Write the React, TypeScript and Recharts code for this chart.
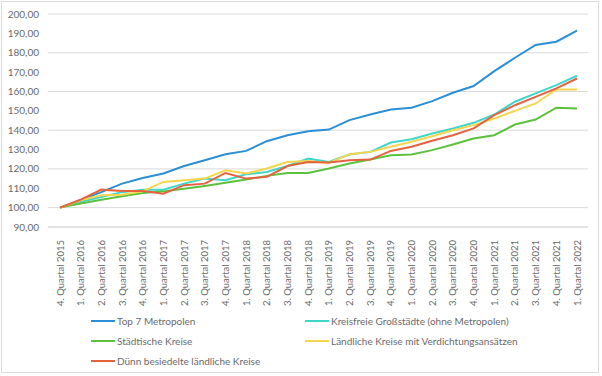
import { LineChart, Line, XAxis, YAxis, CartesianGrid, Legend } from 'recharts';

const quarters = [
  '4. Quartal 2015',
  '1. Quartal 2016', '2. Quartal 2016', '3. Quartal 2016', '4. Quartal 2016',
  '1. Quartal 2017', '2. Quartal 2017', '3. Quartal 2017', '4. Quartal 2017',
  '1. Quartal 2018', '2. Quartal 2018', '3. Quartal 2018', '4. Quartal 2018',
  '1. Quartal 2019', '2. Quartal 2019', '3. Quartal 2019', '4. Quartal 2019',
  '1. Quartal 2020', '2. Quartal 2020', '3. Quartal 2020', '4. Quartal 2020',
  '1. Quartal 2021', '2. Quartal 2021', '3. Quartal 2021', '4. Quartal 2021',
  '1. Quartal 2022',
];

const top7 = [100, 104, 108, 112.4, 115.3, 117.6, 121.5, 124.5, 127.6, 129.3, 134.3, 137.4, 139.5, 140.3, 145.2, 148.1, 150.7, 151.6, 155, 159.3, 162.8, 170.5, 177.4, 184, 185.7, 191.4];
const grossstaedte = [100, 103, 105.5, 108, 109.3, 109.3, 112.4, 115, 114.1, 117.2, 118.4, 121.5, 125.3, 123.6, 127.4, 128.8, 133.6, 135.3, 138.3, 140.9, 143.8, 148.1, 154.7, 159, 163.3, 168.1];
const staedtisch = [100, 102.1, 104.1, 105.9, 107.6, 108.4, 109.8, 111.2, 112.8, 114.5, 116.4, 117.9, 117.9, 120.2, 122.8, 124.8, 127.1, 127.4, 129.7, 132.6, 135.7, 137.4, 142.9, 145.5, 151.6, 151.2];
const laendlichVerd = [100, 103.8, 106.4, 106.7, 108.4, 113.3, 114.1, 115, 119.3, 117.6, 120.2, 123.6, 124.1, 123.1, 127.6, 128.8, 131.4, 134, 136.9, 140, 142.6, 146, 150, 153.8, 161, 161];
const duennBesiedelt = [100, 104.1, 109.3, 108.6, 108.6, 107.2, 111.6, 112.4, 117.9, 115, 115.9, 121.5, 123.6, 123.3, 124.5, 124.8, 129.3, 131.4, 134.5, 137.4, 140.9, 147.8, 152.9, 157.2, 161.6, 166.7];

const yTicks = [90, 100, 110, 120, 130, 140, 150, 160, 170, 180, 190, 200];

const series = [
  { key: 'top7', name: 'Top 7 Metropolen', color: '#2a8fd6' },
  { key: 'gross', name: 'Kreisfreie Großstädte (ohne Metropolen)', color: '#3fd6cc' },
  { key: 'staedt', name: 'Städtische Kreise', color: '#5cc13d' },
  { key: 'laendl', name: 'Ländliche Kreise mit Verdichtungsansätzen', color: '#f5d54c' },
  { key: 'duenn', name: 'Dünn besiedelte ländliche Kreise', color: '#e6623f' },
];

const data = quarters.map((q, i) => ({
  q,
  top7: top7[i],
  gross: grossstaedte[i],
  staedt: staedtisch[i],
  laendl: laendlichVerd[i],
  duenn: duennBesiedelt[i],
}));

const FONT = 'Lato, "Open Sans", sans-serif';
const GREY = '#6a6a6a';

function QuarterTick(props: any) {
  const { x, y, payload } = props;
  return (
    <g transform={`translate(${x},${y})`}>
      <text transform="rotate(-90)" x={-5} y={0} dy={3.5} textAnchor="end" fill={GREY} fontSize={9.5} fontFamily={FONT}>
        {payload.value}
      </text>
    </g>
  );
}

function LegendBox(props: any) {
  const order = series.map(s => s.name);
  const items = [...(props.payload || [])].sort((a: any, b: any) => order.indexOf(a.value) - order.indexOf(b.value));
  const cols = [91, 305];
  return (
    <div style={{ position: 'relative', height: 64, fontFamily: FONT, fontSize: 10, color: GREY }}>
      {items.map((it: any, i: number) => (
        <div key={i} style={{ position: 'absolute', left: cols[i % 2], top: 6 + Math.floor(i / 2) * 20, height: 20, display: 'flex', alignItems: 'center', whiteSpace: 'nowrap' }}>
          <span style={{ display: 'inline-block', width: 24, height: 2, background: it.color, marginRight: 2 }} />
          <span>{it.value}</span>
        </div>
      ))}
    </div>
  );
}

export default function App() {
  return (
    <div style={{ position: 'absolute', left: 0, top: 0, width: 602, height: 376, background: '#fff' }}>
      <LineChart width={602} height={376} data={data} margin={{ top: 14, right: 14, left: 0, bottom: 7 }}>
        <CartesianGrid vertical={false} stroke="#d9d9d9" />
        <XAxis dataKey="q" interval={0} height={78} padding={{ left: 12, right: 11 }} tick={<QuarterTick />} tickLine={false} axisLine={{ stroke: '#d9d9d9' }} />
        <YAxis domain={[90, 200]} ticks={yTicks} width={48} tickSize={0} tickMargin={9} axisLine={false} tickLine={false}
          tick={{ fill: GREY, fontSize: 10, fontFamily: FONT }} tickFormatter={(v: number) => v.toFixed(2).replace('.', ',')} />
        <Legend verticalAlign="bottom" height={64} content={<LegendBox />} />
        {series.map(s => (
          <Line key={s.key} dataKey={s.key} name={s.name} stroke={s.color} strokeWidth={2} dot={false} type="linear" isAnimationActive={false} />
        ))}
      </LineChart>
      <div style={{ position: 'absolute', left: 1, top: 1, width: 598, height: 372, border: '1px solid #d9d9d9', boxSizing: 'border-box', pointerEvents: 'none' }} />
    </div>
  );
}
